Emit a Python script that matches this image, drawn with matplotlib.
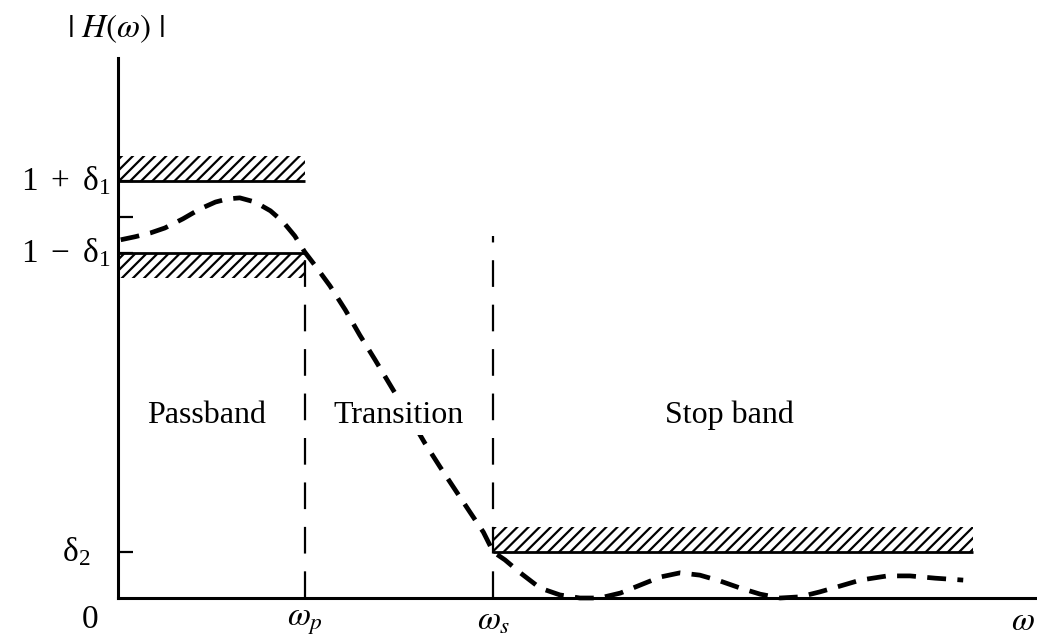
import matplotlib
matplotlib.use("Agg")
import matplotlib.pyplot as plt

plt.rcParams["font.family"] = ["Liberation Serif", "DejaVu Serif"]
plt.rcParams["mathtext.fontset"] = "stix"
plt.rcParams["hatch.linewidth"] = 1.6

# --------------------------------------------------
# Values (normalised frequency)
# --------------------------------------------------

w_p = 0.207
w_s = 0.416
w_stop_end = 0.948
delta1 = 0.095
delta2 = 0.121
band_depth = 0.065
ws_line_top = 0.95

curve_w = [0.003, 0.019, 0.036, 0.052, 0.072, 0.091, 0.108, 0.121, 0.135,
           0.152, 0.169, 0.183, 0.196, 0.207,
           0.218, 0.235, 0.252, 0.268, 0.285, 0.305, 0.324, 0.340, 0.357,
           0.376, 0.390, 0.405, 0.416,
           0.429, 0.446, 0.468, 0.490, 0.512, 0.534, 0.557, 0.579, 0.601,
           0.623, 0.645, 0.667, 0.690, 0.712, 0.734, 0.756, 0.778, 0.800,
           0.823, 0.853, 0.878, 0.906, 0.937]
curve_h = [0.940, 0.948, 0.958, 0.971, 0.995, 1.021, 1.039, 1.047, 1.050,
           1.039, 1.016, 0.987, 0.950, 0.908,
           0.874, 0.819, 0.756, 0.690, 0.625, 0.546, 0.472, 0.407, 0.344,
           0.276, 0.226, 0.173, 0.121,
           0.100, 0.066, 0.026, 0.008, 0.000, 0.000, 0.013, 0.034, 0.055,
           0.066, 0.060, 0.045, 0.026, 0.010, 0.000, 0.003, 0.016, 0.031,
           0.047, 0.058, 0.058, 0.052, 0.047]

region_labels = ["Passband", "Transition", "Stop band"]
region_x = [0.098, 0.311, 0.678]
region_y = 0.48

ytick_vals = [delta2, 1 - delta1, 1.0, 1 + delta1]
ylabel_vals = [delta2, 1 - delta1, 1 + delta1]
ylabel_text = [r"$\mathregular{δ_2}$", r"$\mathregular{1\ -\ δ_1}$",
               r"$\mathregular{1\ +\ δ_1}$"]
ylabel_offset = [-28, -8, -8]
xtick_vals = [w_p, w_s]
xtick_text = [r"$\omega_p$", r"$\omega_s$"]

# --------------------------------------------------
# Figure
# --------------------------------------------------

fig = plt.figure(figsize=(10.37, 6.43), dpi=100)
ax = fig.add_axes([118 / 1037, 45 / 643, 919 / 1037, 540 / 643])
ax.set_xlim(0, 1.0188)
ax.set_ylim(0, 1.417)

for side in ["top", "right"]:
    ax.spines[side].set_visible(False)
ax.spines["left"].set_linewidth(2.2)
ax.spines["bottom"].set_linewidth(2.2)

ax.set_yticks(ytick_vals)
ax.set_yticklabels([])
ax.tick_params(axis="y", direction="in", length=11, width=1.6)
ax.set_xticks(xtick_vals)
ax.set_xticklabels(xtick_text, fontsize=24)
ax.tick_params(axis="x", length=0, pad=6)

for val, txt, off in zip(ylabel_vals, ylabel_text, ylabel_offset):
    ax.annotate(txt, xy=(0, val), xycoords=("axes fraction", "data"),
                xytext=(off, 0), textcoords="offset pixels",
                fontsize=24, ha="right", va="center")

# tolerance bands
ax.hlines([1 + delta1, 1 - delta1], 0, w_p, color="black", lw=2.0)
ax.hlines(delta2, w_s, w_stop_end, color="black", lw=2.0)

ax.fill_between([0, w_p], 1 + delta1, 1 + delta1 + band_depth,
                facecolor="none", edgecolor="black", hatch="///", linewidth=0)
ax.fill_between([0, w_p], 1 - delta1 - band_depth, 1 - delta1,
                facecolor="none", edgecolor="black", hatch="///", linewidth=0)
ax.fill_between([w_s, w_stop_end], delta2, delta2 + band_depth,
                facecolor="none", edgecolor="black", hatch="///", linewidth=0)

# band edges
ax.vlines(w_p, 0, 1 - delta1, color="black", lw=1.6,
          linestyles=(0, (12, 8)))
ax.vlines(w_s, 0, ws_line_top, color="black", lw=1.6,
          linestyles=(0, (12, 8)))

# magnitude response
ax.plot(curve_w, curve_h, color="black", lw=3.4,
        dashes=(4.0, 2.4), solid_capstyle="butt", clip_on=False)

for label, x in zip(region_labels, region_x):
    ax.text(x, region_y, label, fontsize=23, ha="center", va="center",
            zorder=5,
            bbox=dict(facecolor="white", edgecolor="none", pad=4))

ax.text(-0.031, -0.058, "0", fontsize=24, ha="center", va="center")
ax.text(1.003, -0.063, r"$\omega$", fontsize=24, ha="center", va="center",
        clip_on=False)
ax.text(-0.002, 1.495, r"$|\ H(\omega)\ |$", fontsize=24, ha="center",
        va="center", clip_on=False)

fig.savefig("out.png", dpi=100)
